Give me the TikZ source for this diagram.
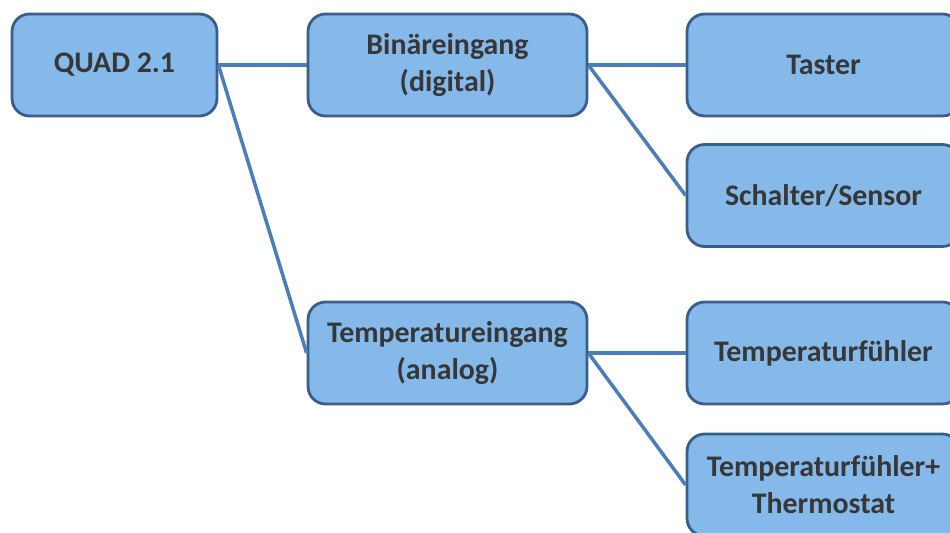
\documentclass[tikz,border=0pt]{standalone}
\usepackage{fontspec}
\setmainfont{Carlito}
\definecolor{boxfill}{RGB}{132,185,233}
\definecolor{boxline}{RGB}{58,94,140}
\definecolor{linkline}{RGB}{74,126,187}
\definecolor{boxtext}{RGB}{55,55,55}
\begin{document}
\begin{tikzpicture}[x=0.02cm, y=-0.02cm,
    box/.style={draw=boxline, line width=1.6pt, fill=boxfill, rounded corners=10pt,
        align=center, text=boxtext, inner sep=2pt,
        font=\fontsize{17}{21}\selectfont\bfseries, minimum height=2.04cm},
    link/.style={draw=linkline, line width=2pt}]
    \useasboundingbox (0,0) rectangle (950,532);
    \clip (0,0) rectangle (950,532);
    % Root
    \node[box, minimum width=4.1cm] (quad) at (114.5,65) {QUAD 2.1};
    % Inputs
    \node[box, minimum width=5.58cm] (binaer) at (447.5,65) {Binäreingang\\(digital)};
    \node[box, minimum width=5.58cm] (temp) at (447.5,353) {Temperatureingang\\(analog)};
    % Devices
    \node[box, minimum width=5.46cm] (taster) at (823.5,65) {Taster};
    \node[box, minimum width=5.46cm] (schalter) at (823.5,195.5) {Schalter/Sensor};
    \node[box, minimum width=5.46cm] (fuehler) at (823.5,353) {Temperaturfühler};
    \node[box, minimum width=5.46cm] (thermo) at (823.5,485) {Temperaturfühler+\\Thermostat};
    % Connections
    \draw[link] (quad.east) -- (binaer.west);
    \draw[link] (quad.east) -- (temp.west);
    \draw[link] (binaer.east) -- (taster.west);
    \draw[link] (binaer.east) -- (schalter.west);
    \draw[link] (temp.east) -- (fuehler.west);
    \draw[link] (temp.east) -- (thermo.west);
\end{tikzpicture}
\end{document}
